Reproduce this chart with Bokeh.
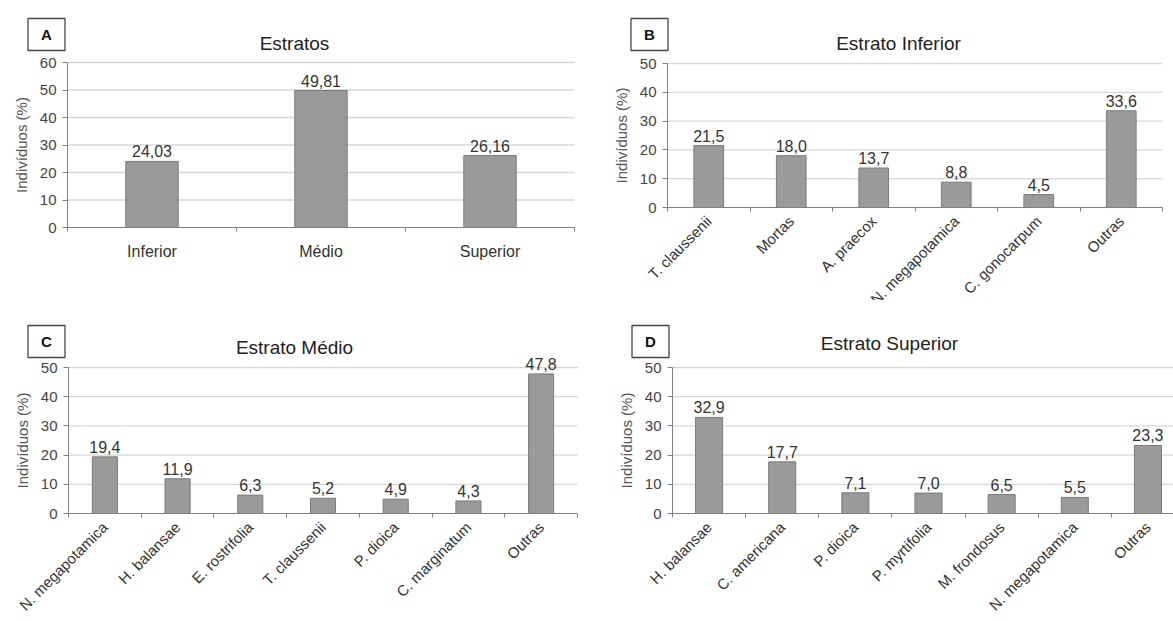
from bokeh.plotting import figure
from bokeh.layouts import column, row
from bokeh.models import Range1d, FixedTicker
from bokeh.core.properties import value
from bokeh.embed import file_html
from bokeh.resources import INLINE
import math

FONT = "Liberation Sans"

# Panel A - share of individuals per stratum
estratos = ["Inferior", "Médio", "Superior"]
estratos_pct = [24.03, 49.81, 26.16]

# Panel B - lower stratum
inferior_spp = ["T. claussenii", "Mortas", "A. praecox", "N. megapotamica",
                "C. gonocarpum", "Outras"]
inferior_pct = [21.5, 18.0, 13.7, 8.8, 4.5, 33.6]

# Panel C - middle stratum
medio_spp = ["N. megapotamica", "H. balansae", "E. rostrifolia", "T. claussenii",
             "P. dioica", "C. marginatum", "Outras"]
medio_pct = [19.4, 11.9, 6.3, 5.2, 4.9, 4.3, 47.8]

# Panel D - upper stratum
superior_spp = ["H. balansae", "C. americana", "P. dioica", "P. myrtifolia",
                "M. frondosus", "N. megapotamica", "Outras"]
superior_pct = [32.9, 17.7, 7.1, 7.0, 6.5, 5.5, 23.3]

y_ticks_a = [0, 10, 20, 30, 40, 50, 60]
y_ticks_bcd = [0, 10, 20, 30, 40, 50]

AXIS = "#808080"
TEXT = "#333333"


def panel(geom, cats, vals, yticks, letter, title, decimals, rotate):
    W, H = geom["size"]
    L, R = geom["plot_x"]          # pixel span of the category area
    y0, ytop = geom["plot_y"]      # pixel rows of 0 and of the top tick
    n = len(cats)
    ymax = yticks[-1]
    cw = (R - L) / n
    ky = ymax / (y0 - ytop)

    def X(px):
        return -0.5 + (px - L) / cw

    def Y(py):
        return (y0 - py) * ky

    p = figure(width=W, height=H, output_backend="svg", toolbar_location=None,
               tools="", title=None,
               x_range=Range1d(X(0), X(W)), y_range=Range1d(Y(H), Y(0)),
               min_border_left=0, min_border_right=0,
               min_border_top=0, min_border_bottom=0)
    p.outline_line_color = None
    p.background_fill_color = "white"
    p.border_fill_color = "white"
    p.grid.visible = False

    xs = list(range(n))

    # horizontal gridlines, limited to the plotting area
    gy = [t for t in yticks if t > 0]
    p.segment(x0=[-0.5] * len(gy), x1=[n - 0.5] * len(gy), y0=gy, y1=gy,
              line_color="#d6d6d6", line_width=1.3)

    p.vbar(x=xs, top=vals, width=geom["bar"], bottom=0,
           fill_color="#9a9a9a", line_color="#7a7a7a", line_width=1)

    labels = [f"{v:.{decimals}f}".replace(".", ",") for v in vals]
    p.text(x=xs, y=vals, text=labels, text_align="center",
           text_baseline="alphabetic", y_offset=-10,
           text_font=value(FONT), text_font_size="16px", text_color=TEXT)

    # x axis sits on y = 0; ticks between the bars
    xa = p.xaxis[0]
    xa.fixed_location = 0
    xa.bounds = (-0.5, n - 0.5)
    xa.ticker = FixedTicker(ticks=xs, minor_ticks=[k + 0.5 for k in range(-1, n)])
    xa.major_label_overrides = {i: c for i, c in enumerate(cats)}
    xa.major_tick_out = 0
    xa.major_tick_in = 0
    xa.minor_tick_out = 4
    xa.minor_tick_in = 0
    xa.minor_tick_line_color = AXIS
    xa.axis_line_color = AXIS
    xa.major_label_text_font = FONT
    xa.major_label_text_color = TEXT
    if rotate:
        xa.major_label_orientation = math.pi / 4
        xa.major_label_text_font_size = "15px"
        xa.major_label_standoff = 7
    else:
        xa.major_label_text_font_size = "16px"
        xa.major_label_standoff = 11

    ya = p.yaxis[0]
    ya.fixed_location = -0.5
    ya.bounds = (0, ymax)
    ya.ticker = FixedTicker(ticks=yticks)
    ya.axis_label = "Indivíduos (%)"
    ya.axis_label_text_font = FONT
    ya.axis_label_text_font_style = "normal"
    ya.axis_label_text_font_size = "15px"
    ya.axis_label_text_color = "#555555"
    ya.axis_label_standoff = 7
    ya.major_tick_out = 5
    ya.major_tick_in = 0
    ya.minor_tick_out = 0
    ya.minor_tick_in = 0
    ya.axis_line_color = AXIS
    ya.major_tick_line_color = AXIS
    ya.major_label_text_font = FONT
    ya.major_label_text_font_size = "15px"
    ya.major_label_text_color = "#444444"
    ya.major_label_standoff = 6

    tx, ty = geom["title"]
    p.text(x=[X(tx)], y=[Y(ty)], text=[title], text_align="center",
           text_baseline="middle", text_font=value(FONT),
           text_font_size="19px", text_color="#222222")

    bx, by = geom["box"]
    p.rect(x=[X(bx)], y=[Y(by)], width=37, height=32, width_units="screen",
           height_units="screen", fill_color="white", line_color="#444444",
           line_width=1.3)
    p.text(x=[X(bx)], y=[Y(by)], text=[letter], text_align="center",
           text_baseline="middle", text_font=value(FONT),
           text_font_size="15px", text_font_style="bold", text_color="#111111")
    return p


GEOM_A = dict(size=(600, 300), plot_x=(67, 574), plot_y=(227, 62),
              title=(294, 43), box=(46, 34), bar=0.31)
GEOM_B = dict(size=(573, 300), plot_x=(67, 562), plot_y=(207, 63),
              title=(298, 43), box=(49, 34), bar=0.36)
GEOM_C = dict(size=(600, 321), plot_x=(68, 577), plot_y=(213, 67),
              title=(294, 47), box=(46, 41), bar=0.345)
GEOM_D = dict(size=(573, 321), plot_x=(72, 584), plot_y=(213, 67),
              title=(289, 43), box=(50, 41), bar=0.37)

pa = panel(GEOM_A, estratos, estratos_pct, y_ticks_a, "A", "Estratos", 2, False)
pb = panel(GEOM_B, inferior_spp, inferior_pct, y_ticks_bcd, "B",
           "Estrato Inferior", 1, True)
pc = panel(GEOM_C, medio_spp, medio_pct, y_ticks_bcd, "C", "Estrato Médio", 1, True)
pd_ = panel(GEOM_D, superior_spp, superior_pct, y_ticks_bcd, "D",
            "Estrato Superior", 1, True)

layout = column(row(pa, pb), row(pc, pd_))
open("out.html", "w").write(file_html(layout, INLINE))
